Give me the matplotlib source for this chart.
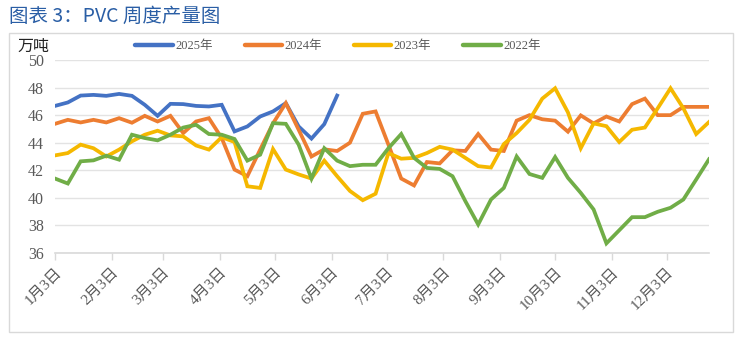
import matplotlib
matplotlib.use("Agg")
import matplotlib.pyplot as plt
from matplotlib.patches import Rectangle

# ---- data ----
series_labels = ["2025年", "2024年", "2023年", "2022年"]
y2025 = [46.67, 46.92, 47.42, 47.47, 47.40, 47.54, 47.40, 46.75, 45.95, 46.82,
         46.80, 46.67, 46.63, 46.75, 44.82, 45.18, 45.90, 46.27, 46.87, 45.18,
         44.30, 45.35, 47.42]
y2024 = [45.37, 45.66, 45.47, 45.66, 45.47, 45.78, 45.45, 45.95, 45.54, 45.95,
         44.70, 45.54, 45.78, 44.34, 42.05, 41.57, 43.50, 45.40, 46.87, 44.94,
         43.00, 43.52, 43.40, 44.00, 46.10, 46.27, 43.86, 41.40, 40.90, 42.60,
         42.50, 43.45, 43.40, 44.63, 43.50, 43.40, 45.60, 46.00, 45.70, 45.60,
         44.80, 45.98, 45.40, 45.90, 45.54, 46.80, 47.20, 46.00, 46.00, 46.60,
         46.60, 46.60]
y2023 = [43.08, 43.25, 43.86, 43.60, 43.00, 43.50, 44.10, 44.58, 44.87, 44.53,
         44.46, 43.80, 43.50, 44.40, 44.05, 40.84, 40.72, 43.54, 42.05, 41.70,
         41.40, 42.70, 41.57, 40.50, 39.83, 40.30, 43.25, 42.84, 42.90, 43.25,
         43.70, 43.50, 42.90, 42.30, 42.20, 43.90, 44.70, 45.66, 47.20, 47.95,
         46.20, 43.60, 45.40, 45.20, 44.05, 44.94, 45.10, 46.50, 47.95, 46.50,
         44.63, 45.50]
y2022 = [41.40, 41.04, 42.65, 42.72, 43.06, 42.77, 44.58, 44.34, 44.17, 44.58,
         45.10, 45.30, 44.63, 44.58, 44.27, 42.70, 43.13, 45.42, 45.37, 43.86,
         41.40, 43.60, 42.70, 42.30, 42.40, 42.40, 43.60, 44.63, 42.90, 42.17,
         42.10, 41.57, 39.76, 38.07, 39.88, 40.72, 43.00, 41.73, 41.45, 42.96,
         41.45, 40.36, 39.16, 36.70, 37.65, 38.60, 38.60, 38.99, 39.28, 39.88,
         41.33, 42.80]
tick_labels = ["1月3日", "2月3日", "3月3日", "4月3日", "5月3日", "6月3日",
               "7月3日", "8月3日", "9月3日", "10月3日", "11月3日", "12月3日"]
tick_days = [0, 31, 59, 90, 120, 151, 181, 212, 243, 273, 304, 334]
y_ticks = [36, 38, 40, 42, 44, 46, 48, 50]

colors = ["#4472C4", "#ED7D31", "#F5B800", "#70AD47"]
FAM = ["Liberation Serif", "Noto Sans CJK SC", "DejaVu Sans"]
GRAY = "#595959"

W, H = 741, 341
fig = plt.figure(figsize=(W / 100, H / 100), dpi=100)

# outer chart frame
fig.patches.append(Rectangle((9 / W, 1 - 332 / H), (733 - 9) / W, (332 - 33) / H,
                             transform=fig.transFigure, fill=False,
                             edgecolor="#d9d9d9", linewidth=1.0))

fig.text(9 / W, 1 - 16 / H, "图表 3：PVC 周度产量图", color="#2A5EA5",
         fontsize=14, family=["Noto Sans CJK SC", "DejaVu Sans"],
         va="center", ha="left", fontweight="medium")

ax = fig.add_axes([55 / W, 1 - 253 / H, (709 - 55) / W, (253 - 60) / H])

lines = []
for vals, c, lab in zip([y2025, y2024, y2023, y2022], colors, series_labels):
    x = list(range(len(vals)))
    ln, = ax.plot(x, vals, color=c, linewidth=2.7, label=lab,
                  solid_joinstyle="miter", zorder=3)
    lines.append(ln)

ax.set_xlim(0, 51)
ax.set_ylim(36, 50)
ax.set_yticks(y_ticks)
ax.set_yticklabels([str(v) for v in y_ticks], family=FAM, fontsize=11.5, color=GRAY)
ax.set_xticks([d / 7 for d in tick_days])
ax.set_xticklabels(tick_labels, family=FAM, fontsize=11, color=GRAY,
                   rotation=45, ha="right", rotation_mode="anchor")

ax.grid(axis="y", color="#e3e3e3", linewidth=1.0, zorder=0)
for s in ["top", "right", "left"]:
    ax.spines[s].set_visible(False)
ax.spines["bottom"].set_color("#d9d9d9")
ax.spines["bottom"].set_linewidth(1.2)
ax.tick_params(axis="y", length=0, pad=8)
ax.tick_params(axis="x", length=5, color="#d9d9d9", width=1, direction="out", pad=4)

fig.text(17 / W, 1 - 46 / H, "万吨", fontsize=11.5, color="#222222",
         family=["Noto Sans CJK SC", "DejaVu Sans"], va="center", ha="left")

leg = fig.legend(handles=lines, loc="center", bbox_to_anchor=(338 / W, 1 - 46 / H),
                 ncol=4, frameon=False, handlelength=3.0, columnspacing=2.55,
                 handletextpad=0.2, prop={"family": FAM, "size": 9})
for t in leg.get_texts():
    t.set_color(GRAY)
for h in leg.legend_handles:
    h.set_linewidth(3.2)
    h.set_solid_capstyle("round")

fig.savefig("out.png", dpi=100)
